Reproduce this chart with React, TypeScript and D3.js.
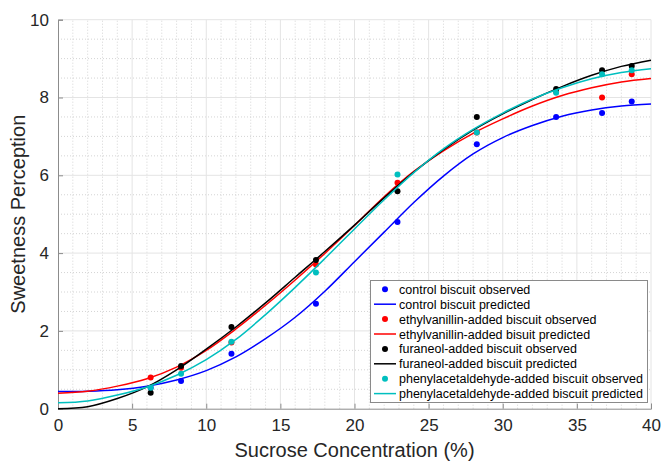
import React, { useEffect, useRef } from 'react';
import * as d3 from 'd3';

// observed sucrose concentrations (%)
const conc = [6.25, 8.3, 11.7, 17.4, 22.9, 28.25, 33.6, 36.7, 38.7];

// observed sweetness per biscuit
const controlObs = [0.54, 0.71, 1.41, 2.7, 4.8, 6.8, 7.5, 7.6, 7.9];
const ethylObs = [0.8, 1.05, 1.7, 3.71, 5.81, 7.1, 8.15, 8.0, 8.6];
const furaneolObs = [0.41, 1.1, 2.1, 3.82, 5.59, 7.5, 8.22, 8.7, 8.81];
const phenylObs = [0.54, 0.9, 1.72, 3.5, 6.02, 7.1, 8.12, 8.6, 8.7];

const fitX = [0, 2, 4, 6, 8, 10, 12, 14, 16, 18, 20, 22, 24, 26, 28, 30, 32, 34, 36, 38, 40];
const controlFit = [0.44, 0.45, 0.49, 0.58, 0.74, 0.98, 1.33, 1.8, 2.35, 3.02, 3.78, 4.54, 5.3, 5.98, 6.55, 6.97, 7.28, 7.52, 7.68, 7.78, 7.83];
const ethylFit = [0.4, 0.45, 0.58, 0.77, 1.07, 1.5, 2.05, 2.66, 3.31, 3.99, 4.71, 5.45, 6.1, 6.63, 7.08, 7.45, 7.78, 8.05, 8.25, 8.4, 8.49];
const furaneolFit = [0.0, 0.05, 0.26, 0.56, 1.0, 1.53, 2.1, 2.72, 3.38, 4.04, 4.72, 5.42, 6.08, 6.66, 7.16, 7.58, 7.95, 8.28, 8.57, 8.8, 8.96];
const phenylFit = [0.15, 0.2, 0.35, 0.56, 0.86, 1.26, 1.78, 2.42, 3.12, 3.86, 4.62, 5.37, 6.07, 6.68, 7.18, 7.6, 7.96, 8.25, 8.48, 8.64, 8.74];

const xTicks = [0, 5, 10, 15, 20, 25, 30, 35, 40];
const yTicks = [0, 2, 4, 6, 8, 10];

const series = [
  { obs: controlObs, fit: controlFit, color: '#0000ff', obsLabel: 'control biscuit observed', fitLabel: 'control biscuit predicted' },
  { obs: ethylObs, fit: ethylFit, color: '#ff0000', obsLabel: 'ethylvanillin-added biscuit observed', fitLabel: 'ethylvanillin-added bisuit predicted' },
  { obs: furaneolObs, fit: furaneolFit, color: '#000000', obsLabel: 'furaneol-added biscuit observed', fitLabel: 'furaneol-added biscuit predicted' },
  { obs: phenylObs, fit: phenylFit, color: '#00bfbf', obsLabel: 'phenylacetaldehyde-added biscuit observed', fitLabel: 'phenylacetaldehyde-added biscuit predicted' },
];

const W = 665;
const H = 463;
const font = 'Arial, "Liberation Sans", Helvetica, sans-serif';

export default function App() {
  const ref = useRef<SVGSVGElement | null>(null);

  useEffect(() => {
    const svg = d3.select(ref.current);
    svg.selectAll('*').remove();

    const x = d3.scaleLinear().domain([0, 40]).range([58, 651]);
    const y = d3.scaleLinear().domain([0, 10]).range([408.7, 19.7]);

    // grid: minor dotted, major solid
    const g = svg.append('g');
    const minorX = d3.range(0, 41, 1).filter((v) => v % 5 !== 0);
    const minorY = d3.range(0, 10.01, 0.5).filter((v) => v % 2 !== 0);
    g.selectAll('line.mx').data(minorX).join('line')
      .attr('x1', (d) => x(d)).attr('x2', (d) => x(d))
      .attr('y1', y(0)).attr('y2', y(10))
      .attr('stroke', '#d4d4d4').attr('stroke-dasharray', '1,2');
    g.selectAll('line.my').data(minorY).join('line')
      .attr('y1', (d) => y(d)).attr('y2', (d) => y(d))
      .attr('x1', x(0)).attr('x2', x(40))
      .attr('stroke', '#d4d4d4').attr('stroke-dasharray', '1,2');
    g.selectAll('line.gx').data(xTicks.slice(1)).join('line')
      .attr('x1', (d) => x(d)).attr('x2', (d) => x(d))
      .attr('y1', y(0)).attr('y2', y(10))
      .attr('stroke', '#e4e4e4');
    g.selectAll('line.gy').data(yTicks.slice(1)).join('line')
      .attr('y1', (d) => y(d)).attr('y2', (d) => y(d))
      .attr('x1', x(0)).attr('x2', x(40))
      .attr('stroke', '#e4e4e4');

    // axes (left and bottom only, ticks pointing in)
    const xAxis = svg.append('g').attr('transform', `translate(0,${y(0)})`)
      .call(d3.axisBottom(x).tickValues(xTicks).tickSize(-5).tickPadding(10));
    const yAxis = svg.append('g').attr('transform', `translate(${x(0)},0)`)
      .call(d3.axisLeft(y).tickValues(yTicks).tickSize(-5).tickPadding(9));
    [xAxis, yAxis].forEach((a) => {
      a.select('.domain').attr('stroke', '#8c8c8c');
      a.selectAll('.tick line').attr('stroke', '#8c8c8c');
      a.selectAll('.tick text').attr('fill', '#262626').style('font', `17px ${font}`);
    });

    // predicted curves and observed points
    const line = d3.line<number>()
      .x((_, i) => x(fitX[i]))
      .y((d) => y(d))
      .curve(d3.curveCatmullRom.alpha(0.5));
    series.forEach((s) => {
      svg.append('g').selectAll('circle').data(s.obs).join('circle')
        .attr('cx', (_, i) => x(conc[i])).attr('cy', (d) => y(d))
        .attr('r', 3).attr('fill', s.color);
      svg.append('path').datum(s.fit)
        .attr('d', line).attr('fill', 'none')
        .attr('stroke', s.color).attr('stroke-width', 1.5);
    });

    // axis labels
    svg.append('text').attr('x', (x(0) + x(40)) / 2).attr('y', 457)
      .attr('text-anchor', 'middle').attr('fill', '#262626')
      .style('font', `20px ${font}`).text('Sucrose Concentration (%)');
    svg.append('text').attr('transform', `translate(25,${(y(0) + y(10)) / 2}) rotate(-90)`)
      .attr('text-anchor', 'middle').attr('fill', '#262626')
      .style('font', `20px ${font}`).text('Sweetness Perception');

    // legend
    const lg = svg.append('g');
    lg.append('rect').attr('x', 370.5).attr('y', 280.5).attr('width', 277).attr('height', 122)
      .attr('fill', '#fff').attr('stroke', '#8a8a8a');
    const rowH = 14.9;
    series.forEach((s, i) => {
      const y0 = 289.3 + rowH * 2 * i;
      const y1 = y0 + rowH;
      lg.append('circle').attr('cx', 385).attr('cy', y0).attr('r', 3).attr('fill', s.color);
      lg.append('text').attr('x', 399).attr('y', y0 + 4.5).attr('fill', '#000')
        .style('font', `12.5px ${font}`).text(s.obsLabel);
      lg.append('line').attr('x1', 374).attr('x2', 396).attr('y1', y1).attr('y2', y1)
        .attr('stroke', s.color).attr('stroke-width', 1.5);
      lg.append('text').attr('x', 399).attr('y', y1 + 4.5).attr('fill', '#000')
        .style('font', `12.5px ${font}`).text(s.fitLabel);
    });
  }, []);

  return (
    <svg
      ref={ref}
      width={W}
      height={H}
      viewBox={`0 0 ${W} ${H}`}
      style={{ position: 'absolute', left: 0, top: 0, background: '#fff' }}
    />
  );
}
